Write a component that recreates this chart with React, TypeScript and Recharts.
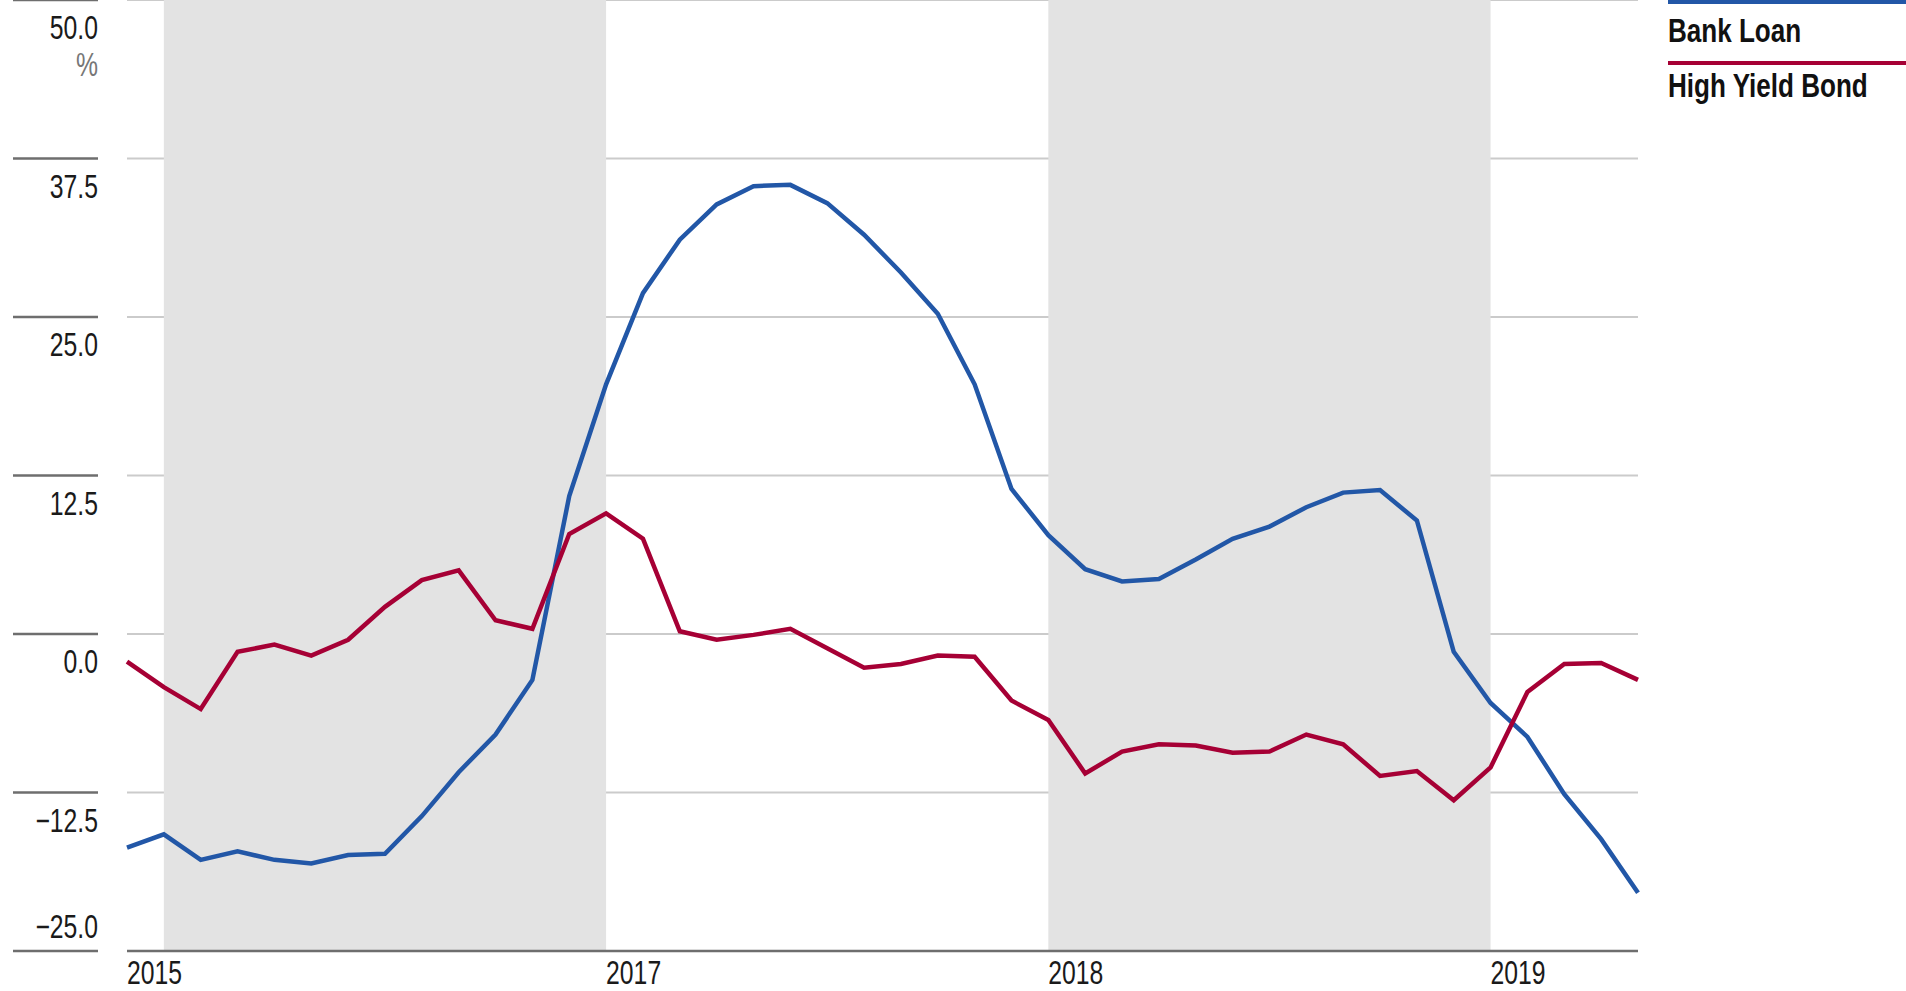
import React from "react";
import {
  LineChart,
  Line,
  XAxis,
  YAxis,
  CartesianGrid,
  ReferenceArea,
} from "recharts";

const months = [
  "2015-12",
  "2016-01", "2016-02", "2016-03", "2016-04", "2016-05", "2016-06",
  "2016-07", "2016-08", "2016-09", "2016-10", "2016-11", "2016-12",
  "2017-01", "2017-02", "2017-03", "2017-04", "2017-05", "2017-06",
  "2017-07", "2017-08", "2017-09", "2017-10", "2017-11", "2017-12",
  "2018-01", "2018-02", "2018-03", "2018-04", "2018-05", "2018-06",
  "2018-07", "2018-08", "2018-09", "2018-10", "2018-11", "2018-12",
  "2019-01", "2019-02", "2019-03", "2019-04", "2019-05",
];

const bankLoan = [
  -16.85, -15.8, -17.81, -17.14, -17.81, -18.1, -17.43, -17.33, -14.36, -10.9,
  -7.93, -3.62, 10.87, 19.69, 26.88, 31.1, 33.88, 35.32, 35.42, 33.98,
  31.49, 28.51, 25.25, 19.69, 11.44, 7.8, 5.11, 4.15, 4.34, 5.88,
  7.51, 8.47, 10.0, 11.15, 11.35, 8.95, -1.41, -5.44, -8.12, -12.63,
  -16.18, -20.4,
];

const highYield = [
  -2.18, -4.19, -5.92, -1.41, -0.83, -1.7, -0.45, 2.14, 4.25, 5.02,
  1.08, 0.41, 7.89, 9.52, 7.51, 0.22, -0.45, -0.07, 0.41, -1.12,
  -2.66, -2.37, -1.7, -1.79, -5.25, -6.78, -11.0, -9.27, -8.7, -8.79,
  -9.37, -9.27, -7.93, -8.7, -11.19, -10.81, -13.11, -10.52, -4.57, -2.37,
  -2.28, -3.62,
];

const yTicks = [-25, -12.5, 0, 12.5, 25, 37.5, 50];
const xTicks = ["2015-12", "2017-01", "2018-01", "2019-01"];
const xTickLabels = ["2015", "2017", "2018", "2019"];
const shadedStarts = ["2016-01", "2018-01"];
const shadedEnds = ["2017-01", "2019-01"];
const seriesNames = ["Bank Loan", "High Yield Bond"];

const BLUE = "#2257a7";
const RED = "#a60035";
const FONT = "'Liberation Sans', Arial, sans-serif";

const data = months.map((m, i) => ({
  month: m,
  bankLoan: bankLoan[i],
  highYield: highYield[i],
}));

const fmtY = (v: number) => {
  const s = Math.abs(v).toFixed(1);
  return v < 0 ? "\u2212" + s : s;
};

const NText = (p: {
  x: number;
  y: number;
  anchor?: "start" | "end";
  size?: number;
  narrow?: number;
  weight?: string;
  fill?: string;
  children: React.ReactNode;
}) => (
  <text
    transform={`translate(${p.x},${p.y}) scale(${p.narrow || 0.75},1)`}
    x={0}
    y={0}
    textAnchor={p.anchor || "start"}
    fontFamily={FONT}
    fontSize={p.size || 33}
    fontWeight={p.weight || "normal"}
    fill={p.fill || "#1a1a1a"}
  >
    {p.children}
  </text>
);

const YTick = (props: any) => {
  const { y, payload } = props;
  const v = payload.value as number;
  const labelY = v === yTicks[0] ? y - 13 : y + 39;
  return (
    <g>
      <line x1={13} x2={98} y1={y} y2={y} stroke="#6e6e6e" strokeWidth={2.5} />
      <NText x={98} y={labelY} anchor="end">
        {fmtY(v)}
      </NText>
      {v === yTicks[yTicks.length - 1] && (
        <NText x={98} y={y + 76} anchor="end" fill="#777777">
          %
        </NText>
      )}
    </g>
  );
};

const XTick = (props: any) => {
  const { x, y, payload } = props;
  const idx = xTicks.indexOf(payload.value);
  return (
    <NText x={x} y={y + 33}>
      {idx >= 0 ? xTickLabels[idx] : ""}
    </NText>
  );
};

export default function App() {
  return (
    <div
      style={{
        position: "absolute",
        left: 0,
        top: 0,
        width: 1906,
        height: 991,
        background: "#ffffff",
      }}
    >
      <LineChart
        width={1906}
        height={991}
        data={data}
        margin={{ top: 0, right: 268, bottom: 0, left: 0 }}
      >
        {shadedStarts.map((s, i) => (
          <ReferenceArea
            key={s}
            x1={s}
            x2={shadedEnds[i]}
            y1={yTicks[0]}
            y2={yTicks[yTicks.length - 1]}
            fill="#e3e3e3"
            fillOpacity={1}
            stroke="none"
            ifOverflow="visible"
          />
        ))}
        <CartesianGrid vertical={false} stroke="#cbcbcb" strokeWidth={2} />
        <XAxis
          dataKey="month"
          type="category"
          scale="point"
          padding={{ left: 0, right: 0 }}
          ticks={xTicks}
          interval={0}
          tick={<XTick />}
          tickLine={false}
          tickSize={0}
          tickMargin={0}
          axisLine={{ stroke: "#6e6e6e", strokeWidth: 2.5 }}
          height={40}
        />
        <YAxis
          type="number"
          domain={[yTicks[0], yTicks[yTicks.length - 1]]}
          ticks={yTicks}
          interval={0}
          width={127}
          axisLine={false}
          tickLine={false}
          tick={<YTick />}
        />
        <Line
          type="linear"
          dataKey="bankLoan"
          name={seriesNames[0]}
          stroke={BLUE}
          strokeWidth={4.5}
          dot={false}
          isAnimationActive={false}
        />
        <Line
          type="linear"
          dataKey="highYield"
          name={seriesNames[1]}
          stroke={RED}
          strokeWidth={4.5}
          dot={false}
          isAnimationActive={false}
        />
      </LineChart>
      <svg
        width={238}
        height={110}
        style={{ position: "absolute", left: 1668, top: 0 }}
      >
        <rect x={0} y={0} width={238} height={4} fill={BLUE} />
        <NText x={0} y={42} size={33} narrow={0.79} weight="bold" fill="#111">
          {seriesNames[0]}
        </NText>
        <rect x={0} y={61} width={238} height={4} fill={RED} />
        <NText x={0} y={97} size={33} narrow={0.79} weight="bold" fill="#111">
          {seriesNames[1]}
        </NText>
      </svg>
    </div>
  );
}
